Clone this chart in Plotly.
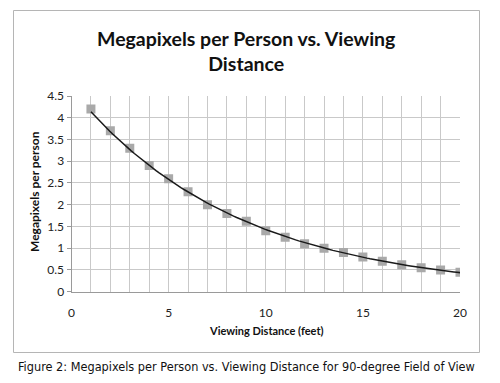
import numpy as np
import plotly.graph_objects as go

distance_ft = list(range(1, 21))
megapixels = [4.2, 3.7, 3.3, 2.9, 2.6, 2.3, 2.0, 1.8, 1.62, 1.4,
              1.25, 1.1, 1.0, 0.9, 0.8, 0.7, 0.62, 0.55, 0.5, 0.45]
x_ticks = [0, 5, 10, 15, 20]
y_ticks = [0, 0.5, 1, 1.5, 2, 2.5, 3, 3.5, 4, 4.5]

# exponential trendline fitted to the data (like Excel's trendline)
xs = np.array(distance_ft, dtype=float)
b, a = np.polyfit(xs, np.log(megapixels), 1)
x_fit = np.linspace(xs.min(), xs.max(), 120)
y_fit = np.exp(a) * np.exp(b * x_fit)

W, H = 500, 383
OFF = 8  # page body margin offset
def px(x): return (x - OFF) / W
def py(y): return 1 - (y - OFF) / H

fig = go.Figure()
fig.add_trace(go.Scatter(
    x=distance_ft, y=megapixels, mode="markers",
    marker=dict(symbol="square", size=9, color="#a9a9a9", line=dict(width=0)),
    showlegend=False, hoverinfo="skip"))
fig.add_trace(go.Scatter(
    x=x_fit, y=y_fit, mode="lines",
    line=dict(color="#1a1a1a", width=1.5), showlegend=False, hoverinfo="skip"))

grid = "#c9c9c9"
tickfont = dict(family="Lato, Liberation Sans", size=12, color="#222")
fig.update_layout(
    template="none",
    width=W, height=H, margin=dict(l=0, r=0, t=0, b=0, pad=0),
    paper_bgcolor="white", plot_bgcolor="white",
    xaxis=dict(domain=[px(71.5), px(460)], range=[0, 20], tickvals=x_ticks,
               ticktext=[str(v) for v in x_ticks], automargin=False,
               showgrid=True, gridcolor=grid, gridwidth=1,
               minor=dict(dtick=1, showgrid=True, gridcolor=grid, gridwidth=1),
               showline=True, linecolor="#9a9a9a", linewidth=1,
               ticks="", ticklabelstandoff=10, tickfont=tickfont,
               zeroline=False, fixedrange=True),
    yaxis=dict(domain=[py(291.7), py(96)], range=[0, 4.5], tickvals=y_ticks,
               ticktext=["0", "0.5", "1", "1.5", "2", "2.5", "3", "3.5", "4", "4.5"],
               automargin=False,
               showgrid=True, gridcolor=grid, gridwidth=1,
               showline=True, linecolor="#9a9a9a", linewidth=1,
               ticks="outside", ticklen=4, tickcolor="#9a9a9a", tickfont=tickfont,
               zeroline=False, fixedrange=True),
    shapes=[dict(type="rect", xref="paper", yref="paper",
                 x0=px(13.5), x1=px(479.5), y0=py(352.5), y1=py(10.5),
                 line=dict(color="#b5b5b5", width=1), fillcolor="rgba(0,0,0,0)",
                 layer="below")],
    annotations=[
        dict(text="<b>Megapixels per Person vs. Viewing<br>Distance</b>",
             xref="paper", yref="paper", x=px(246), y=py(51),
             xanchor="center", yanchor="middle", showarrow=False,
             font=dict(family="Lato, Liberation Sans", size=19.5, color="#111"),
             align="center"),
        dict(text="<b>Megapixels per person</b>", textangle=-90,
             xref="paper", yref="paper", x=px(35), y=py(192),
             xanchor="center", yanchor="middle", showarrow=False,
             font=dict(family="Lato, Liberation Sans", size=12, color="#111")),
        dict(text="<b>Viewing Distance (feet)</b>",
             xref="paper", yref="paper", x=px(266), y=py(330),
             xanchor="center", yanchor="middle", showarrow=False,
             font=dict(family="Lato, Liberation Sans", size=11, color="#111")),
        dict(text="Figure 2: Megapixels per Person vs. Viewing Distance for 90-degree Field of View",
             xref="paper", yref="paper", x=px(246), y=py(366),
             xanchor="center", yanchor="middle", showarrow=False,
             font=dict(family="DejaVu Sans Condensed, DejaVu Sans", size=12.6, color="#111")),
    ],
)

fig.write_html("out.html")
